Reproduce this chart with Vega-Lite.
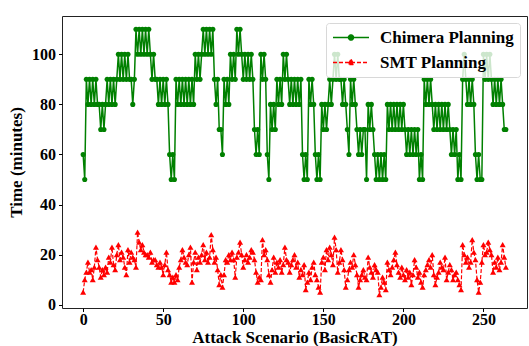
{
  "$schema": "https://vega.github.io/schema/vega-lite/v6.json",
  "width": 465,
  "height": 292,
  "autosize": {"type": "none"},
  "padding": {"left": 62, "top": 16, "right": 2, "bottom": 38},
  "background": "white",
  "config": {
    "view": {"stroke": "#222222", "strokeWidth": 1},
    "axis": {
      "grid": false,
      "domain": false,
      "tickColor": "black",
      "tickSize": 3.5,
      "tickWidth": 1,
      "labelFont": "Liberation Serif",
      "labelFontSize": 16,
      "labelFontWeight": "bold",
      "labelColor": "black",
      "titleFont": "Liberation Serif",
      "titleFontSize": 17,
      "titleFontWeight": "bold",
      "titleColor": "black"
    }
  },
  "datasets": {
    "chimera": [
      {"scenario":0,"minutes":60},{"scenario":1,"minutes":50},{"scenario":2,"minutes":90},{"scenario":3,"minutes":80},{"scenario":4,"minutes":90},{"scenario":5,"minutes":80},{"scenario":6,"minutes":90},{"scenario":7,"minutes":80},{"scenario":8,"minutes":90},{"scenario":9,"minutes":80},
      {"scenario":10,"minutes":80},{"scenario":11,"minutes":70},{"scenario":12,"minutes":80},{"scenario":13,"minutes":70},{"scenario":14,"minutes":80},{"scenario":15,"minutes":90},{"scenario":16,"minutes":80},{"scenario":17,"minutes":90},{"scenario":18,"minutes":80},{"scenario":19,"minutes":90},
      {"scenario":20,"minutes":80},{"scenario":21,"minutes":90},{"scenario":22,"minutes":100},{"scenario":23,"minutes":90},{"scenario":24,"minutes":100},{"scenario":25,"minutes":90},{"scenario":26,"minutes":100},{"scenario":27,"minutes":90},{"scenario":28,"minutes":100},{"scenario":29,"minutes":90},
      {"scenario":30,"minutes":90},{"scenario":31,"minutes":80},{"scenario":32,"minutes":90},{"scenario":33,"minutes":110},{"scenario":34,"minutes":100},{"scenario":35,"minutes":110},{"scenario":36,"minutes":100},{"scenario":37,"minutes":110},{"scenario":38,"minutes":100},{"scenario":39,"minutes":110},
      {"scenario":40,"minutes":100},{"scenario":41,"minutes":110},{"scenario":42,"minutes":100},{"scenario":43,"minutes":90},{"scenario":44,"minutes":100},{"scenario":45,"minutes":90},{"scenario":46,"minutes":90},{"scenario":47,"minutes":80},{"scenario":48,"minutes":90},{"scenario":49,"minutes":80},
      {"scenario":50,"minutes":90},{"scenario":51,"minutes":80},{"scenario":52,"minutes":90},{"scenario":53,"minutes":80},{"scenario":54,"minutes":60},{"scenario":55,"minutes":50},{"scenario":56,"minutes":60},{"scenario":57,"minutes":50},{"scenario":58,"minutes":90},{"scenario":59,"minutes":80},
      {"scenario":60,"minutes":90},{"scenario":61,"minutes":80},{"scenario":62,"minutes":90},{"scenario":63,"minutes":80},{"scenario":64,"minutes":90},{"scenario":65,"minutes":80},{"scenario":66,"minutes":90},{"scenario":67,"minutes":80},{"scenario":68,"minutes":90},{"scenario":69,"minutes":80},
      {"scenario":70,"minutes":100},{"scenario":71,"minutes":90},{"scenario":72,"minutes":100},{"scenario":73,"minutes":90},{"scenario":74,"minutes":100},{"scenario":75,"minutes":110},{"scenario":76,"minutes":100},{"scenario":77,"minutes":110},{"scenario":78,"minutes":100},{"scenario":79,"minutes":110},
      {"scenario":80,"minutes":100},{"scenario":81,"minutes":110},{"scenario":82,"minutes":90},{"scenario":83,"minutes":80},{"scenario":84,"minutes":90},{"scenario":85,"minutes":70},{"scenario":86,"minutes":70},{"scenario":87,"minutes":60},{"scenario":88,"minutes":90},{"scenario":89,"minutes":80},
      {"scenario":90,"minutes":90},{"scenario":91,"minutes":80},{"scenario":92,"minutes":100},{"scenario":93,"minutes":90},{"scenario":94,"minutes":100},{"scenario":95,"minutes":90},{"scenario":96,"minutes":110},{"scenario":97,"minutes":100},{"scenario":98,"minutes":110},{"scenario":99,"minutes":100},
      {"scenario":100,"minutes":90},{"scenario":101,"minutes":100},{"scenario":102,"minutes":90},{"scenario":103,"minutes":100},{"scenario":104,"minutes":90},{"scenario":105,"minutes":100},{"scenario":106,"minutes":90},{"scenario":107,"minutes":70},{"scenario":108,"minutes":60},{"scenario":109,"minutes":70},
      {"scenario":110,"minutes":60},{"scenario":111,"minutes":100},{"scenario":112,"minutes":90},{"scenario":113,"minutes":100},{"scenario":114,"minutes":90},{"scenario":115,"minutes":60},{"scenario":116,"minutes":50},{"scenario":117,"minutes":80},{"scenario":118,"minutes":70},{"scenario":119,"minutes":80},
      {"scenario":120,"minutes":70},{"scenario":121,"minutes":90},{"scenario":122,"minutes":80},{"scenario":123,"minutes":90},{"scenario":124,"minutes":80},{"scenario":125,"minutes":100},{"scenario":126,"minutes":90},{"scenario":127,"minutes":100},{"scenario":128,"minutes":90},{"scenario":129,"minutes":80},
      {"scenario":130,"minutes":90},{"scenario":131,"minutes":80},{"scenario":132,"minutes":90},{"scenario":133,"minutes":80},{"scenario":134,"minutes":90},{"scenario":135,"minutes":80},{"scenario":136,"minutes":90},{"scenario":137,"minutes":60},{"scenario":138,"minutes":50},{"scenario":139,"minutes":60},
      {"scenario":140,"minutes":50},{"scenario":141,"minutes":90},{"scenario":142,"minutes":80},{"scenario":143,"minutes":90},{"scenario":144,"minutes":80},{"scenario":145,"minutes":60},{"scenario":146,"minutes":50},{"scenario":147,"minutes":60},{"scenario":148,"minutes":50},{"scenario":149,"minutes":80},
      {"scenario":150,"minutes":70},{"scenario":151,"minutes":80},{"scenario":152,"minutes":70},{"scenario":153,"minutes":80},{"scenario":154,"minutes":90},{"scenario":155,"minutes":80},{"scenario":156,"minutes":90},{"scenario":157,"minutes":100},{"scenario":158,"minutes":90},{"scenario":159,"minutes":100},
      {"scenario":160,"minutes":90},{"scenario":161,"minutes":90},{"scenario":162,"minutes":80},{"scenario":163,"minutes":90},{"scenario":164,"minutes":80},{"scenario":165,"minutes":70},{"scenario":166,"minutes":60},{"scenario":167,"minutes":90},{"scenario":168,"minutes":80},{"scenario":169,"minutes":90},
      {"scenario":170,"minutes":80},{"scenario":171,"minutes":70},{"scenario":172,"minutes":60},{"scenario":173,"minutes":70},{"scenario":174,"minutes":60},{"scenario":175,"minutes":70},{"scenario":176,"minutes":70},{"scenario":177,"minutes":50},{"scenario":178,"minutes":80},{"scenario":179,"minutes":70},
      {"scenario":180,"minutes":80},{"scenario":181,"minutes":70},{"scenario":182,"minutes":60},{"scenario":183,"minutes":50},{"scenario":184,"minutes":60},{"scenario":185,"minutes":50},{"scenario":186,"minutes":60},{"scenario":187,"minutes":50},{"scenario":188,"minutes":60},{"scenario":189,"minutes":50},
      {"scenario":190,"minutes":80},{"scenario":191,"minutes":70},{"scenario":192,"minutes":80},{"scenario":193,"minutes":70},{"scenario":194,"minutes":80},{"scenario":195,"minutes":70},{"scenario":196,"minutes":80},{"scenario":197,"minutes":70},{"scenario":198,"minutes":80},{"scenario":199,"minutes":70},
      {"scenario":200,"minutes":80},{"scenario":201,"minutes":70},{"scenario":202,"minutes":60},{"scenario":203,"minutes":70},{"scenario":204,"minutes":60},{"scenario":205,"minutes":70},{"scenario":206,"minutes":60},{"scenario":207,"minutes":70},{"scenario":208,"minutes":60},{"scenario":209,"minutes":70},
      {"scenario":210,"minutes":50},{"scenario":211,"minutes":60},{"scenario":212,"minutes":50},{"scenario":213,"minutes":90},{"scenario":214,"minutes":80},{"scenario":215,"minutes":90},{"scenario":216,"minutes":80},{"scenario":217,"minutes":90},{"scenario":218,"minutes":80},{"scenario":219,"minutes":70},
      {"scenario":220,"minutes":80},{"scenario":221,"minutes":70},{"scenario":222,"minutes":80},{"scenario":223,"minutes":70},{"scenario":224,"minutes":80},{"scenario":225,"minutes":70},{"scenario":226,"minutes":80},{"scenario":227,"minutes":70},{"scenario":228,"minutes":80},{"scenario":229,"minutes":70},
      {"scenario":230,"minutes":60},{"scenario":231,"minutes":70},{"scenario":232,"minutes":60},{"scenario":233,"minutes":70},{"scenario":234,"minutes":50},{"scenario":235,"minutes":60},{"scenario":236,"minutes":50},{"scenario":237,"minutes":90},{"scenario":238,"minutes":100},{"scenario":239,"minutes":90},
      {"scenario":240,"minutes":80},{"scenario":241,"minutes":90},{"scenario":242,"minutes":80},{"scenario":243,"minutes":90},{"scenario":244,"minutes":80},{"scenario":245,"minutes":60},{"scenario":246,"minutes":50},{"scenario":247,"minutes":60},{"scenario":248,"minutes":50},{"scenario":249,"minutes":50},
      {"scenario":250,"minutes":100},{"scenario":251,"minutes":90},{"scenario":252,"minutes":100},{"scenario":253,"minutes":90},{"scenario":254,"minutes":100},{"scenario":255,"minutes":90},{"scenario":256,"minutes":80},{"scenario":257,"minutes":90},{"scenario":258,"minutes":80},{"scenario":259,"minutes":90},
      {"scenario":260,"minutes":80},{"scenario":261,"minutes":90},{"scenario":262,"minutes":80},{"scenario":263,"minutes":70},{"scenario":264,"minutes":70}
    ],
    "smt": [
      {"scenario":0,"minutes":5},{"scenario":1,"minutes":10},{"scenario":2,"minutes":13},{"scenario":3,"minutes":17},{"scenario":4,"minutes":13},{"scenario":5,"minutes":14},{"scenario":6,"minutes":10},{"scenario":7,"minutes":15},{"scenario":8,"minutes":23},{"scenario":9,"minutes":18},
      {"scenario":10,"minutes":15},{"scenario":11,"minutes":11},{"scenario":12,"minutes":14},{"scenario":13,"minutes":12},{"scenario":14,"minutes":15},{"scenario":15,"minutes":13},{"scenario":16,"minutes":19},{"scenario":17,"minutes":17},{"scenario":18,"minutes":23},{"scenario":19,"minutes":16},
      {"scenario":20,"minutes":14},{"scenario":21,"minutes":20},{"scenario":22,"minutes":24},{"scenario":23,"minutes":18},{"scenario":24,"minutes":21},{"scenario":25,"minutes":19},{"scenario":26,"minutes":15},{"scenario":27,"minutes":12},{"scenario":28,"minutes":22},{"scenario":29,"minutes":17},
      {"scenario":30,"minutes":21},{"scenario":31,"minutes":19},{"scenario":32,"minutes":18},{"scenario":33,"minutes":15},{"scenario":34,"minutes":29},{"scenario":35,"minutes":25},{"scenario":36,"minutes":22},{"scenario":37,"minutes":24},{"scenario":38,"minutes":21},{"scenario":39,"minutes":20},
      {"scenario":40,"minutes":20},{"scenario":41,"minutes":19},{"scenario":42,"minutes":21},{"scenario":43,"minutes":17},{"scenario":44,"minutes":18},{"scenario":45,"minutes":18},{"scenario":46,"minutes":16},{"scenario":47,"minutes":15},{"scenario":48,"minutes":17},{"scenario":49,"minutes":15},
      {"scenario":50,"minutes":12},{"scenario":51,"minutes":16},{"scenario":52,"minutes":21},{"scenario":53,"minutes":14},{"scenario":54,"minutes":12},{"scenario":55,"minutes":9},{"scenario":56,"minutes":11},{"scenario":57,"minutes":9},{"scenario":58,"minutes":12},{"scenario":59,"minutes":10},
      {"scenario":60,"minutes":15},{"scenario":61,"minutes":18},{"scenario":62,"minutes":22},{"scenario":63,"minutes":19},{"scenario":64,"minutes":17},{"scenario":65,"minutes":16},{"scenario":66,"minutes":20},{"scenario":67,"minutes":23},{"scenario":68,"minutes":9},{"scenario":69,"minutes":17},
      {"scenario":70,"minutes":21},{"scenario":71,"minutes":14},{"scenario":72,"minutes":19},{"scenario":73,"minutes":17},{"scenario":74,"minutes":20},{"scenario":75,"minutes":24},{"scenario":76,"minutes":18},{"scenario":77,"minutes":21},{"scenario":78,"minutes":17},{"scenario":79,"minutes":19},
      {"scenario":80,"minutes":28},{"scenario":81,"minutes":22},{"scenario":82,"minutes":17},{"scenario":83,"minutes":19},{"scenario":84,"minutes":14},{"scenario":85,"minutes":8},{"scenario":86,"minutes":12},{"scenario":87,"minutes":7},{"scenario":88,"minutes":12},{"scenario":89,"minutes":18},
      {"scenario":90,"minutes":17},{"scenario":91,"minutes":20},{"scenario":92,"minutes":18},{"scenario":93,"minutes":21},{"scenario":94,"minutes":18},{"scenario":95,"minutes":11},{"scenario":96,"minutes":19},{"scenario":97,"minutes":21},{"scenario":98,"minutes":25},{"scenario":99,"minutes":20},
      {"scenario":100,"minutes":15},{"scenario":101,"minutes":18},{"scenario":102,"minutes":20},{"scenario":103,"minutes":17},{"scenario":104,"minutes":19},{"scenario":105,"minutes":22},{"scenario":106,"minutes":21},{"scenario":107,"minutes":18},{"scenario":108,"minutes":13},{"scenario":109,"minutes":9},
      {"scenario":110,"minutes":11},{"scenario":111,"minutes":10},{"scenario":112,"minutes":26},{"scenario":113,"minutes":20},{"scenario":114,"minutes":22},{"scenario":115,"minutes":18},{"scenario":116,"minutes":12},{"scenario":117,"minutes":9},{"scenario":118,"minutes":14},{"scenario":119,"minutes":19},
      {"scenario":120,"minutes":13},{"scenario":121,"minutes":17},{"scenario":122,"minutes":15},{"scenario":123,"minutes":18},{"scenario":124,"minutes":13},{"scenario":125,"minutes":16},{"scenario":126,"minutes":23},{"scenario":127,"minutes":18},{"scenario":128,"minutes":17},{"scenario":129,"minutes":13},
      {"scenario":130,"minutes":16},{"scenario":131,"minutes":18},{"scenario":132,"minutes":20},{"scenario":133,"minutes":15},{"scenario":134,"minutes":17},{"scenario":135,"minutes":11},{"scenario":136,"minutes":14},{"scenario":137,"minutes":12},{"scenario":138,"minutes":16},{"scenario":139,"minutes":6},
      {"scenario":140,"minutes":9},{"scenario":141,"minutes":13},{"scenario":142,"minutes":10},{"scenario":143,"minutes":15},{"scenario":144,"minutes":17},{"scenario":145,"minutes":12},{"scenario":146,"minutes":10},{"scenario":147,"minutes":7},{"scenario":148,"minutes":5},{"scenario":149,"minutes":17},
      {"scenario":150,"minutes":19},{"scenario":151,"minutes":14},{"scenario":152,"minutes":22},{"scenario":153,"minutes":18},{"scenario":154,"minutes":23},{"scenario":155,"minutes":20},{"scenario":156,"minutes":16},{"scenario":157,"minutes":27},{"scenario":158,"minutes":22},{"scenario":159,"minutes":13},
      {"scenario":160,"minutes":17},{"scenario":161,"minutes":22},{"scenario":162,"minutes":18},{"scenario":163,"minutes":14},{"scenario":164,"minutes":7},{"scenario":165,"minutes":10},{"scenario":166,"minutes":14},{"scenario":167,"minutes":17},{"scenario":168,"minutes":15},{"scenario":169,"minutes":20},
      {"scenario":170,"minutes":16},{"scenario":171,"minutes":12},{"scenario":172,"minutes":7},{"scenario":173,"minutes":10},{"scenario":174,"minutes":12},{"scenario":175,"minutes":14},{"scenario":176,"minutes":11},{"scenario":177,"minutes":10},{"scenario":178,"minutes":19},{"scenario":179,"minutes":15},
      {"scenario":180,"minutes":13},{"scenario":181,"minutes":11},{"scenario":182,"minutes":16},{"scenario":183,"minutes":14},{"scenario":184,"minutes":13},{"scenario":185,"minutes":4},{"scenario":186,"minutes":7},{"scenario":187,"minutes":11},{"scenario":188,"minutes":9},{"scenario":189,"minutes":6},
      {"scenario":190,"minutes":17},{"scenario":191,"minutes":14},{"scenario":192,"minutes":12},{"scenario":193,"minutes":15},{"scenario":194,"minutes":18},{"scenario":195,"minutes":21},{"scenario":196,"minutes":16},{"scenario":197,"minutes":13},{"scenario":198,"minutes":11},{"scenario":199,"minutes":15},
      {"scenario":200,"minutes":12},{"scenario":201,"minutes":10},{"scenario":202,"minutes":14},{"scenario":203,"minutes":11},{"scenario":204,"minutes":13},{"scenario":205,"minutes":8},{"scenario":206,"minutes":12},{"scenario":207,"minutes":18},{"scenario":208,"minutes":15},{"scenario":209,"minutes":11},
      {"scenario":210,"minutes":13},{"scenario":211,"minutes":9},{"scenario":212,"minutes":7},{"scenario":213,"minutes":12},{"scenario":214,"minutes":14},{"scenario":215,"minutes":16},{"scenario":216,"minutes":18},{"scenario":217,"minutes":15},{"scenario":218,"minutes":20},{"scenario":219,"minutes":12},
      {"scenario":220,"minutes":8},{"scenario":221,"minutes":11},{"scenario":222,"minutes":13},{"scenario":223,"minutes":17},{"scenario":224,"minutes":15},{"scenario":225,"minutes":14},{"scenario":226,"minutes":19},{"scenario":227,"minutes":10},{"scenario":228,"minutes":13},{"scenario":229,"minutes":16},
      {"scenario":230,"minutes":14},{"scenario":231,"minutes":10},{"scenario":232,"minutes":12},{"scenario":233,"minutes":13},{"scenario":234,"minutes":10},{"scenario":235,"minutes":8},{"scenario":236,"minutes":6},{"scenario":237,"minutes":24},{"scenario":238,"minutes":20},{"scenario":239,"minutes":17},
      {"scenario":240,"minutes":19},{"scenario":241,"minutes":15},{"scenario":242,"minutes":17},{"scenario":243,"minutes":26},{"scenario":244,"minutes":21},{"scenario":245,"minutes":18},{"scenario":246,"minutes":10},{"scenario":247,"minutes":5},{"scenario":248,"minutes":9},{"scenario":249,"minutes":17},
      {"scenario":250,"minutes":24},{"scenario":251,"minutes":20},{"scenario":252,"minutes":21},{"scenario":253,"minutes":25},{"scenario":254,"minutes":22},{"scenario":255,"minutes":20},{"scenario":256,"minutes":13},{"scenario":257,"minutes":17},{"scenario":258,"minutes":15},{"scenario":259,"minutes":19},
      {"scenario":260,"minutes":14},{"scenario":261,"minutes":17},{"scenario":262,"minutes":24},{"scenario":263,"minutes":19},{"scenario":264,"minutes":15}
    ]
  },
  "encoding": {
    "x": {
      "field": "scenario",
      "type": "quantitative",
      "scale": {"domain": [-13.2, 277.2], "nice": false, "zero": false},
      "axis": {"values": [0, 50, 100, 150, 200, 250], "title": "Attack Scenario (BasicRAT)", "labelPadding": 0, "titlePadding": 2}
    },
    "y": {
      "field": "minutes",
      "type": "quantitative",
      "scale": {"domain": [-1.3, 115.3], "nice": false, "zero": false},
      "axis": {"values": [0, 20, 40, 60, 80, 100], "title": "Time (minutes)", "labelPadding": 3, "titlePadding": 6}
    }
  },
  "layer": [
    {
      "data": {"name": "chimera"},
      "encoding": {
        "color": {
          "datum": "Chimera Planning",
          "type": "nominal",
          "scale": {"domain": ["Chimera Planning", "SMT Planning"], "range": ["#008000", "#ff0000"]},
          "legend": {
            "title": null,
            "orient": "top-right",
            "offset": 7,
            "symbolSize": 1296,
            "clipHeight": 17,
            "rowPadding": 7,
            "padding": 6,
            "labelOffset": 10,
            "labelLimit": 300,
            "labelFont": "Liberation Serif",
            "labelFontSize": 17,
            "labelFontWeight": "bold",
            "labelColor": "black",
            "fillColor": "rgba(255,255,255,0.8)",
            "strokeColor": "#d8d8d8",
            "cornerRadius": 3,
            "encode": {
              "symbols": {
                "update": {
                  "shape": {"signal": "datum.value === 'SMT Planning' ? 'M-1,0L1,0M0,-0.17L0.15,0.11L-0.15,0.11Z' : 'M-1,0L1,0M0.14,0A0.14,0.14,0,1,1,-0.14,0A0.14,0.14,0,1,1,0.14,0Z'"},
                  "fill": {"signal": "datum.value === 'SMT Planning' ? '#ff0000' : '#008000'"},
                  "stroke": {"signal": "datum.value === 'SMT Planning' ? '#ff0000' : '#008000'"},
                  "strokeDash": {"signal": "datum.value === 'SMT Planning' ? [4, 2] : [1, 0]"},
                  "strokeWidth": {"value": 1.5},
                  "opacity": {"value": 1}
                }
              }
            }
          }
        }
      },
      "layer": [
        {"mark": {"type": "line", "strokeWidth": 1.5}},
        {"mark": {"type": "point", "shape": "circle", "filled": true, "size": 26, "opacity": 1}}
      ]
    },
    {
      "data": {"name": "smt"},
      "encoding": {
        "color": {"datum": "SMT Planning", "type": "nominal"}
      },
      "layer": [
        {"mark": {"type": "line", "strokeWidth": 1.2, "strokeDash": [4, 2]}},
        {"mark": {"type": "point", "shape": "triangle-up", "filled": true, "size": 36, "opacity": 1}}
      ]
    }
  ]
}
